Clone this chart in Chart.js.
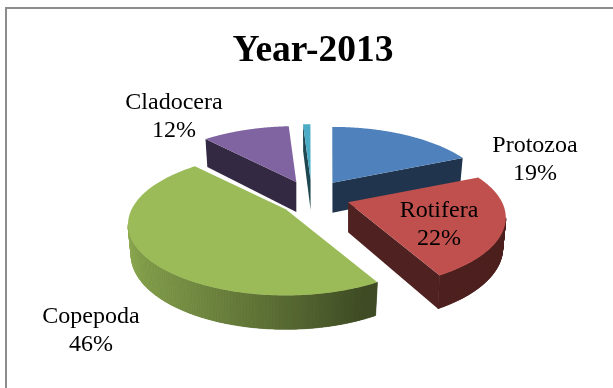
<!DOCTYPE html>
<html>
<head>
<meta charset="utf-8">
<style>
  html, body { margin: 0; background: #fff; overflow: hidden; }
  #frame { position: absolute; left: 5px; top: 7px; right: -4px; bottom: -4px; border: 2px solid #8c8c8c; }
  #wrap { position: absolute; left: 0; top: 0; width: 613px; height: 388px; }
</style>
<script src="https://cdn.jsdelivr.net/npm/chart.js@4"></script>
</head>
<body>
<div id="frame"></div>
<div id="wrap"><canvas id="pie" width="613" height="388"></canvas></div>
<script>
const categories = ['Protozoa', 'Rotifera', 'Copepoda', 'Cladocera', 'Others'];
const percents = [19, 22, 46, 12, 1];
const colors = ['#4f81bd', '#c0504d', '#9bbb59', '#8064a2', '#4bacc6'];

// centre of each label block, null means the slice stays unlabelled
const labelSpots = [[535, 152], [439, 217], [91, 323], [174, 109], null];

const PERSPECTIVE = 0.215;
const TILT = 0.44;
const OFFSET_TILT = 0.48;
const DEPTH = 30;
const STEPS = 180;

function shadeColor(hex, f) {
  const n = parseInt(hex.slice(1), 16);
  const c = [n >> 16, (n >> 8) & 255, n & 255].map(v => Math.round(v * f));
  return `rgb(${c[0]},${c[1]},${c[2]})`;
}

// rim gets brighter towards the left of the pie
function rimShade(angle) {
  const deg = angle * 180 / Math.PI;
  if (deg < 150) return 0.4;
  if (deg > 255) return 0.9;
  return 0.4 + 0.5 * Math.sin((deg - 150) / 105 * Math.PI / 2);
}

// the camera pulls angles on the lower left round a few degrees
function viewAngle(a) {
  const peak = 230 * Math.PI / 180;
  return a + (5 * Math.PI / 180) * (1 + Math.cos(a - peak));
}

function poly(ctx, pts, fill) {
  ctx.beginPath();
  pts.forEach((p, i) => i ? ctx.lineTo(p.x, p.y) : ctx.moveTo(p.x, p.y));
  ctx.closePath();
  ctx.fillStyle = fill;
  ctx.fill();
}

const pie3d = {
  id: 'pie3d',
  beforeDatasetsDraw(chart) {
    const ctx = chart.ctx;
    const arcs = chart.getDatasetMeta(0).data;

    // back slices first so the front ones overlap them
    [0, 4, 3, 1, 2].forEach(i => {
      const arc = arcs[i];
      const start = arc.startAngle + Math.PI / 2;
      const end = arc.endAngle + Math.PI / 2;
      const mid = (start + end) / 2;
      const R = arc.outerRadius;
      const off = arc.options.offset;
      const ax = arc.x + Math.sin(mid) * off;
      const ay = arc.y - Math.cos(mid) * off * OFFSET_TILT;
      const base = arc.options.backgroundColor;

      const top = angle => {
        const a = viewAngle(angle);
        const u = Math.sin(a), v = -Math.cos(a);
        const s = 1 / (1 - PERSPECTIVE * v);
        return { x: ax + u * R * s, y: ay + v * R * TILT * s, s };
      };
      const down = p => ({
        x: ax + (p.x - ax) * 0.98,
        y: p.y + DEPTH * Math.pow(p.s, 0.5)
      });
      const apex = { x: ax, y: ay, s: 1 };

      const pts = [];
      for (let k = 0; k <= STEPS; k++) pts.push(top(start + (end - start) * k / STEPS));

      // radial cut faces, only the ones turned towards the viewer
      const inner = top(mid);
      [pts[0], pts[STEPS]].forEach(p => {
        const ex = p.x - ax, ey = p.y - ay;
        const side = ex * (inner.y - ay) - ey * (inner.x - ax);
        if (side * ex < 0) {
          poly(ctx, [apex, p, down(p), down(apex)], shadeColor(base, 0.41));
        }
      });

      // outer wall: where the rim runs right to left, a solid backing
      // first so the shaded quads on top leave no seams
      const rim = [];
      for (let k = 0; k < STEPS; k++) {
        if (pts[k + 1].x < pts[k].x) rim.push(k);
      }
      if (rim.length) {
        const edge = [...rim.map(k => pts[k]), pts[rim[rim.length - 1] + 1]];
        poly(ctx, [...edge, ...edge.map(down).reverse()], shadeColor(base, 0.41));
      }
      rim.forEach(k => {
        const a = pts[k], b = pts[k + 1];
        const c = shadeColor(base, rimShade(start + (end - start) * (k + 0.5) / STEPS));
        poly(ctx, [a, b, down(b), down(a)], c);
        ctx.strokeStyle = c;
        ctx.lineWidth = 0.6;
        ctx.stroke();
      });

      poly(ctx, [apex, ...pts], base);
    });

    // value labels
    ctx.fillStyle = '#000';
    ctx.font = '24px "Liberation Serif"';
    ctx.textAlign = 'center';
    ctx.textBaseline = 'alphabetic';
    labelSpots.forEach((spot, i) => {
      if (!spot) return;
      ctx.fillText(categories[i], spot[0], spot[1]);
      ctx.fillText(percents[i] + '%', spot[0], spot[1] + 28);
    });
    return false;
  }
};

new Chart(document.getElementById('pie'), {
  type: 'pie',
  plugins: [pie3d],
  data: {
    labels: categories,
    datasets: [{
      data: percents,
      backgroundColor: colors,
      borderWidth: 0,
      offset: 36.5,
      radius: 154
    }]
  },
  options: {
    responsive: false,
    animation: false,
    rotation: -2,
    layout: { padding: { left: 13, bottom: 67 } },
    plugins: {
      legend: { display: false },
      tooltip: { enabled: false },
      title: {
        display: true,
        text: 'Year-2013',
        color: '#000',
        fullSize: false,
        padding: { top: 29, bottom: 0 },
        font: { family: '"Liberation Serif"', size: 37.5, weight: 'bold', lineHeight: 1.2 }
      }
    }
  }
});
</script>
</body>
</html>
